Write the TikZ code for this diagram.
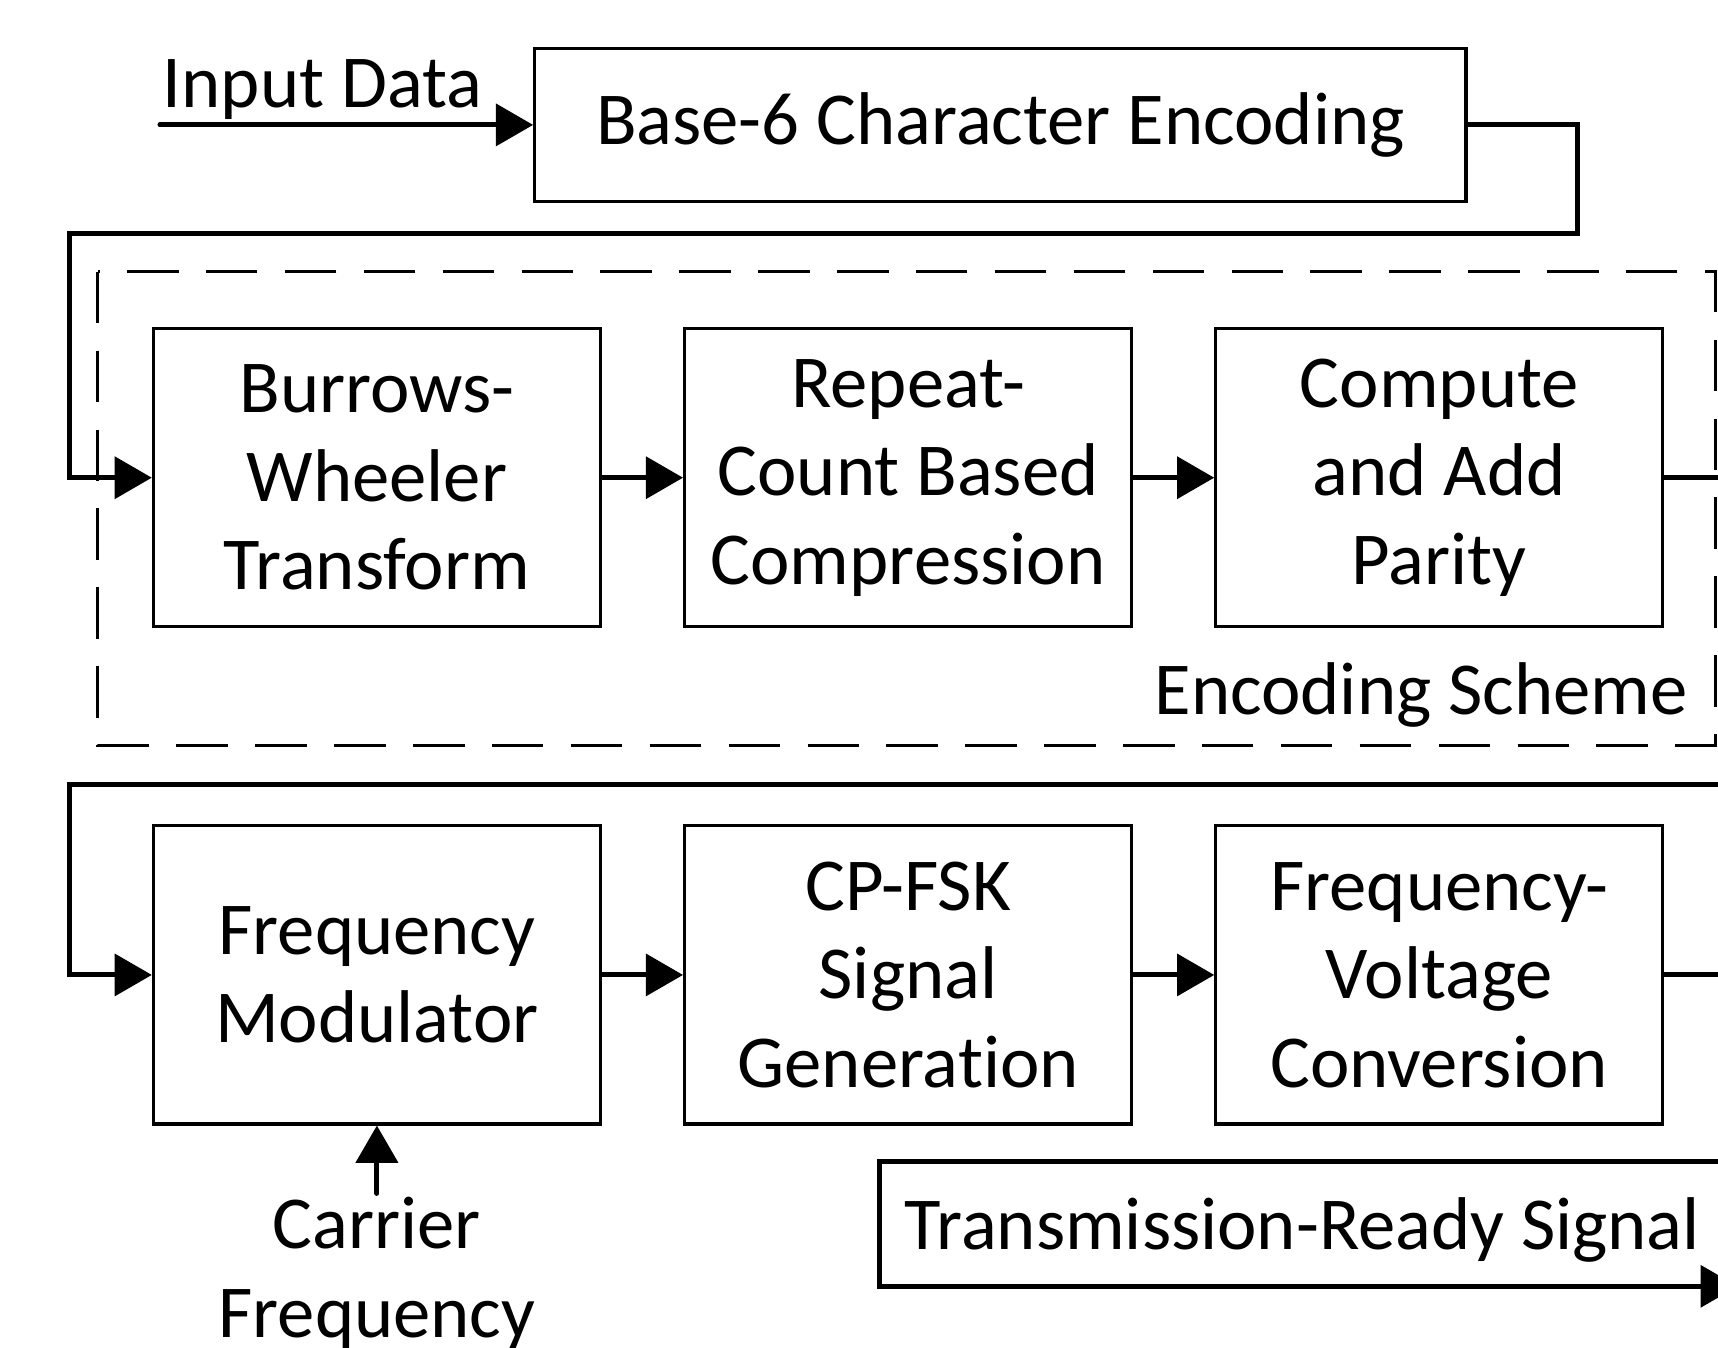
\documentclass[tikz,border=0pt]{standalone}
\usepackage{fontspec}
\setmainfont[Ligatures=NoCommon]{Carlito}
\usepackage{tikz}
\usetikzlibrary{arrows.meta}
\usetikzlibrary{positioning}

\begin{document}
\begin{tikzpicture}[
    font=\fontsize{19.4}{23}\selectfont,
    >={Triangle[length=0.34cm, width=0.38cm]},
    block/.style={draw, line width=0.8pt, minimum width=4.08cm,
      minimum height=2.72cm, align=center, inner sep=0},
    wire/.style={line width=1.3pt, line cap=round}
  ]
    \useasboundingbox (0,0) rectangle (15.68,-12.30);
    \node[draw, line width=0.8pt, minimum width=8.50cm, minimum height=1.40cm]
      (base6) at (9.13,-1.14) {Base-6 Character Encoding};
    \coordinate (instart) at (1.46,-1.14);
    \node[anchor=base west, inner sep=0] (inlabel) at (1.48,-0.98) {Input Data};
    \node[block] (bwt) at (3.44,-4.36) {Burrows-\\Wheeler\\Transform};
    \node[block, right=0.74cm of bwt] (rcbc) {Repeat-\\Count Based\\Compression};
    \node[block, right=0.74cm of rcbc] (parity) {Compute\\and Add\\Parity};
    \node[block, below=1.79cm of bwt] (fmod) {Frequency\\Modulator};
    \node[block, right=0.74cm of fmod] (cpfsk) {CP-FSK\\Signal\\Generation};
    \node[block, right=0.74cm of cpfsk] (fv) {Frequency-\\Voltage\\Conversion};
    \node[anchor=base east, inner sep=0] (scheme) at (15.41,-6.52) {Encoding Scheme};
    \node[below=0.62cm of fmod, align=center, inner sep=0.03cm] (carrier)
      {Carrier\\Frequency};
    \node[anchor=base west, inner sep=0] (txlabel) at (8.25,-11.40)
      {Transmission-Ready Signal};
    \draw[line width=0.8pt, dash pattern=on 0.47cm off 0.25cm]
      (0.89,-2.48) rectangle (15.66,-6.80);
    \coordinate (topr) at (14.40,-2.13);
    \coordinate (topl) at (0.63,-2.13);
    \coordinate (loopr) at (16.20,-7.16);
    \coordinate (loopl) at (0.63,-7.16);
    \coordinate (outr) at (16.20,-10.60);
    \coordinate (outl) at (8.03,-10.60);
    \coordinate (outend) at (15.86,-11.74);
    \draw[wire, ->] (instart) -- (base6.west);
    \draw[wire, ->] (base6.east) -| (topr) -- (topl) |- (bwt.west);
    \draw[wire, ->] (bwt) -- (rcbc);
    \draw[wire, ->] (rcbc) -- (parity);
    \draw[wire, ->] (parity.east) -| (loopr) -- (loopl) |- (fmod.west);
    \draw[wire, ->] (fmod) -- (cpfsk);
    \draw[wire, ->] (cpfsk) -- (fv);
    \draw[wire, ->] (fv.east) -| (outr) -- (outl) |- (outend);
    \draw[wire, ->] (carrier.north) -- (fmod.south);
\end{tikzpicture}
\end{document}
